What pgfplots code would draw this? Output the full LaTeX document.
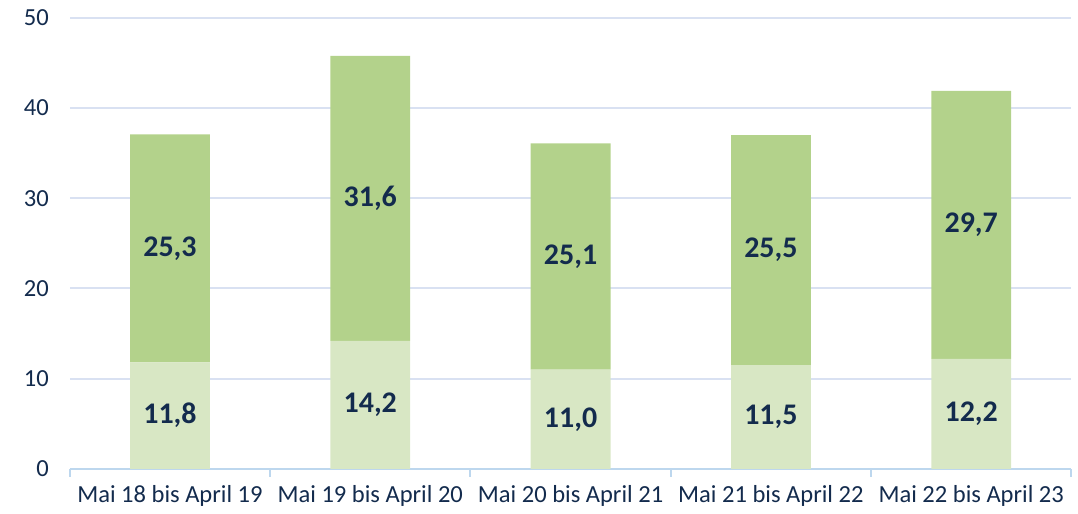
\documentclass[border=0pt]{standalone}
\usepackage{fontspec}
\setmainfont{Carlito}
\usepackage{pgfplots}
\pgfplotsset{compat=1.18}
\definecolor{txt}{HTML}{132B4D}
\definecolor{lightgreen}{HTML}{D8E7C4}
\definecolor{darkgreen}{HTML}{B3D28B}
\definecolor{gridc}{HTML}{D9E1F2}
\definecolor{axisc}{HTML}{BDD7EE}

\pgfplotstableread{
x low high
0 11.8 25.3
1 14.2 31.6
2 11.0 25.1
3 11.5 25.5
4 12.2 29.7
}\bars

\pgfplotstableread{
x y lab
0 5.9 11,8
1 7.1 14,2
2 5.5 11,0
3 5.75 11,5
4 6.1 12,2
0 24.45 25,3
1 30.0 31,6
2 23.55 25,1
3 24.25 25,5
4 27.05 29,7
}\labels

\pgfplotsset{
  base/.style={
    scale only axis, width=502pt, height=226pt,
    xmin=-0.5, xmax=4.5, ymin=0, ymax=50,
    /pgf/number format/assume math mode=true,
  }
}

\begin{document}
\begin{tikzpicture}
\begin{axis}[base,
  ybar stacked, bar width=40pt,
  axis y line*=left, y axis line style={draw=none},
  axis x line*=bottom, x axis line style={draw=axisc, line width=1pt},
  ytick={0,10,...,50},
  ymajorgrids, grid style={gridc, line width=1pt},
  ytick style={draw=none},
  yticklabel style={font=\fontsize{12.3}{14}\selectfont, text=txt, xshift=-7pt},
  xtick={0,...,4},
  xticklabels={Mai 18 bis April 19, Mai 19 bis April 20, Mai 20 bis April 21, Mai 21 bis April 22, Mai 22 bis April 23},
  xticklabel style={font=\fontsize{12.3}{14}\selectfont, text=txt, yshift=-5pt},
  xtick style={draw=axisc, line width=1pt},
  major tick length=0pt,
  extra x ticks={-0.5,0.5,1.5,2.5,3.5,4.5},
  extra x tick labels={},
  extra x tick style={major tick length=4pt, tick align=outside, grid=none},
]
\addplot[fill=lightgreen, draw=none] table[x=x, y=low] {\bars};
\addplot[fill=darkgreen, draw=none] table[x=x, y=high] {\bars};
\end{axis}
\begin{axis}[base, hide axis, name=lab]
\addplot[only marks, mark=none, point meta=explicit symbolic,
  nodes near coords,
  every node near coord/.style={anchor=center, text=txt, font=\fontsize{15}{17}\selectfont\bfseries}]
  table[x=x, y=y, meta=lab] {\labels};
\end{axis}
\path ([xshift=-35pt,yshift=-22pt]lab.south west) ([xshift=1.5pt,yshift=9pt]lab.north east);
\end{tikzpicture}
\end{document}
